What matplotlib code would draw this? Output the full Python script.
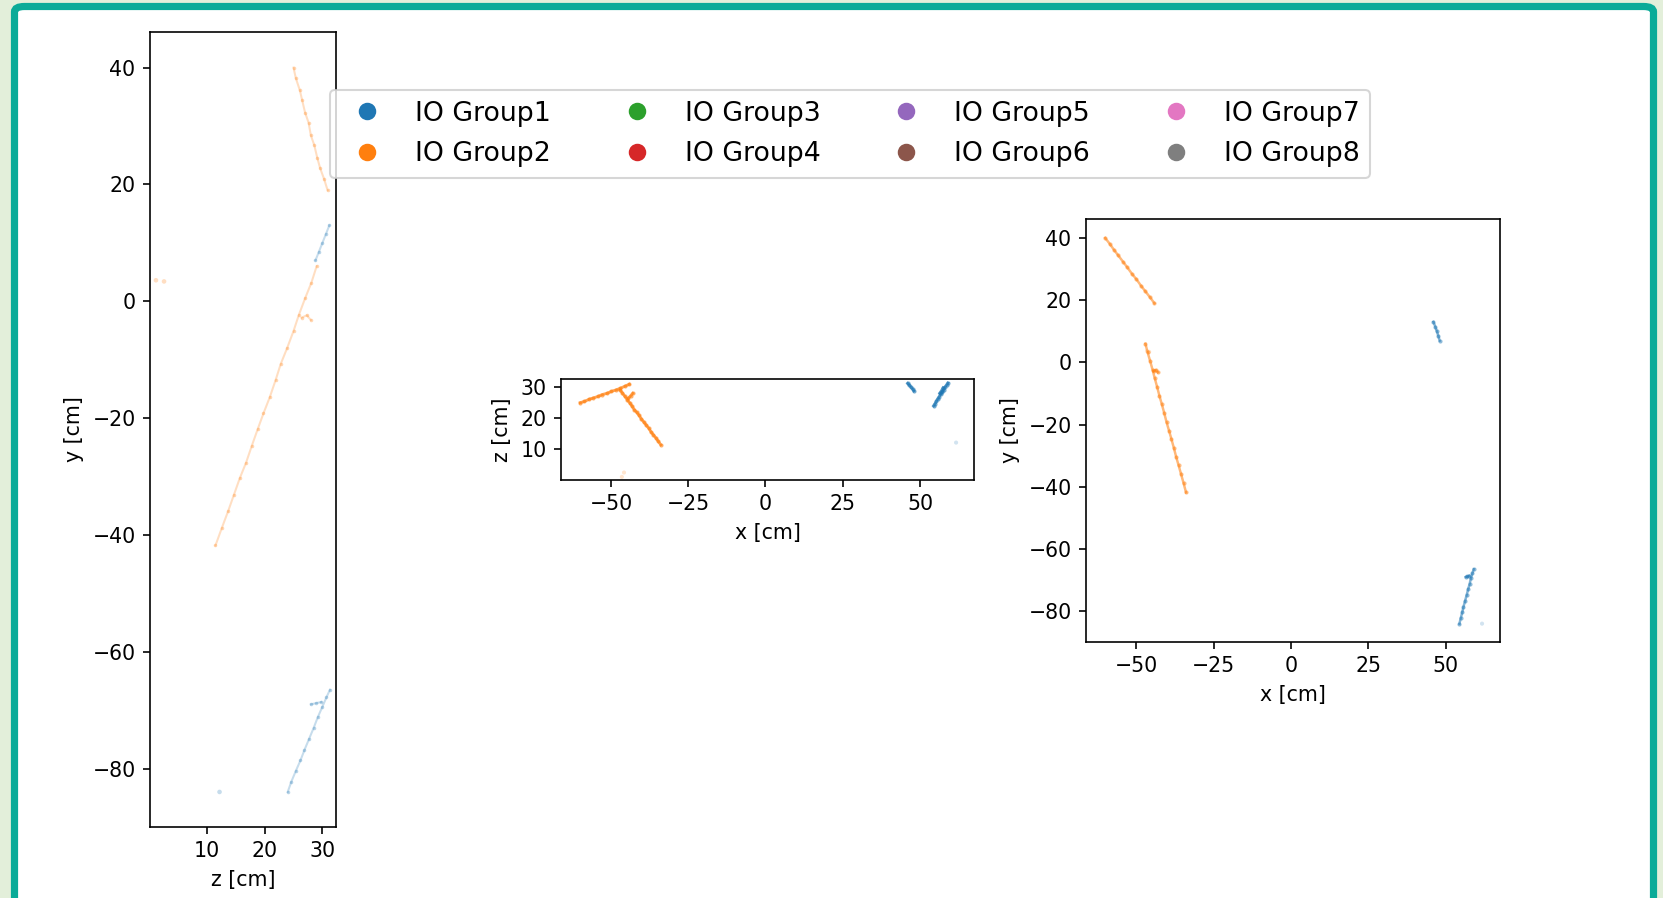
import matplotlib.pyplot as plt
from matplotlib.lines import Line2D
from matplotlib.patches import FancyBboxPatch

# IO group names and colours (tab10 order)
group_labels = ["IO Group1", "IO Group2", "IO Group3", "IO Group4",
                "IO Group5", "IO Group6", "IO Group7", "IO Group8"]
group_colors = ["tab:blue", "tab:orange", "tab:green", "tab:red",
                "tab:purple", "tab:brown", "tab:pink", "tab:gray"]

# hits read off the three projections, one list per track segment
# IO Group2 (orange)
track_a_x = [-60.0, -58.6, -57.1, -55.8, -54.2, -52.9, -51.3, -49.9, -48.4, -47.0, -45.5, -44.1]
track_a_y = [40.0, 38.2, 36.1, 34.4, 32.3, 30.6, 28.4, 26.7, 24.6, 22.8, 20.9, 19.0]
track_a_z = [25.0, 25.4, 26.1, 26.5, 27.0, 27.6, 28.0, 28.6, 29.1, 29.6, 30.3, 30.9]

track_b_x = [-47.0, -46.3, -45.5, -44.7, -44.0, -43.2, -42.5, -41.7, -40.9, -40.2,
             -39.4, -38.6, -37.8, -37.1, -36.3, -35.5, -34.7, -33.9]
track_b_y = [6.0, 3.2, 0.5, -2.4, -5.1, -8.0, -10.7, -13.5, -16.4, -19.2,
             -21.9, -24.7, -27.6, -30.3, -33.1, -35.9, -38.8, -41.8]
track_b_z = [29.0, 28.1, 27.0, 25.9, 25.0, 23.9, 22.8, 21.9, 20.9, 19.8,
             18.8, 17.8, 16.8, 15.7, 14.7, 13.7, 12.6, 11.5]

kink_b_x = [-44.4, -43.6, -43.0]
kink_b_y = [-2.8, -2.4, -3.2]
kink_b_z = [26.4, 27.3, 28.0]

# IO Group1 (blue)
track_c_x = [46.0, 46.6, 47.1, 47.6, 48.0]
track_c_y = [13.0, 11.5, 10.0, 8.5, 7.0]
track_c_z = [31.2, 30.6, 30.0, 29.4, 28.8]

track_d_x = [54.4, 54.8, 55.3, 55.7, 56.2, 56.7, 57.2, 57.7, 58.1, 58.6, 59.0]
track_d_y = [-84.0, -82.3, -80.4, -78.6, -76.8, -74.9, -73.0, -71.2, -69.4, -67.8, -66.5]
track_d_z = [24.0, 24.6, 25.4, 26.2, 26.9, 27.7, 28.5, 29.2, 30.0, 30.7, 31.3]

kink_d_x = [56.4, 57.0, 57.5]
kink_d_y = [-69.0, -68.8, -68.6]
kink_d_z = [28.0, 28.9, 29.8]

# isolated single hits
stray_x = [-46.5, -45.8, 61.7]
stray_y = [3.6, 3.4, -84.0]
stray_z = [1.2, 2.6, 12.2]
stray_g = [1, 1, 0]

segments = [
    (track_a_x, track_a_y, track_a_z, 1),
    (track_b_x, track_b_y, track_b_z, 1),
    (kink_b_x, kink_b_y, kink_b_z, 1),
    (track_c_x, track_c_y, track_c_z, 0),
    (track_d_x, track_d_y, track_d_z, 0),
    (kink_d_x, kink_d_y, kink_d_z, 0),
]


def main():
    fig = plt.figure(figsize=(1663 / 148, 898 / 148), dpi=148)
    fig.patch.set_facecolor("#e3efda")

    # teal rounded frame round the white card
    frame = FancyBboxPatch((14.5 / 1663, -0.02), 1639 / 1663, 1 - 6.5 / 898 + 0.02,
                           boxstyle="round,pad=0,rounding_size=0.006",
                           transform=fig.transFigure, facecolor="white",
                           edgecolor="#0aab98", linewidth=3.5, zorder=-10)
    fig.patches.append(frame)

    ax_zy = fig.add_axes([150 / 1663, 71 / 898, 186 / 1663, 795 / 898])
    ax_xz = fig.add_axes([561 / 1663, 418 / 898, 413 / 1663, 101 / 898])
    ax_xy = fig.add_axes([1086 / 1663, 256 / 898, 414 / 1663, 423 / 898])

    for sx, sy, sz, g in segments:
        c = group_colors[g]
        ax_zy.plot(sz, sy, "-", color=c, lw=1.0, alpha=0.25)
        ax_zy.scatter(sz, sy, s=3, color=c, alpha=0.3, linewidths=0)
        ax_xz.plot(sx, sz, "-", color=c, lw=1.4, alpha=0.7)
        ax_xz.scatter(sx, sz, s=4, color=c, alpha=0.6, linewidths=0)
        ax_xy.plot(sx, sy, "-", color=c, lw=1.2, alpha=0.55)
        ax_xy.scatter(sx, sy, s=4, color=c, alpha=0.5, linewidths=0)

    # faint single hits
    stray_c = [group_colors[g] for g in stray_g]
    ax_zy.scatter(stray_z, stray_y, s=5, c=stray_c, alpha=0.25, linewidths=0)
    ax_xz.scatter(stray_x, stray_z, s=4, c=stray_c, alpha=0.2, linewidths=0)
    ax_xy.scatter(stray_x, stray_y, s=4, c=stray_c, alpha=0.2, linewidths=0)

    ax_zy.set(xlim=(0.17, 32.35), ylim=(-90.0, 46.1), xlabel="z [cm]", ylabel="y [cm]")
    ax_xz.set(xlim=(-66.2, 67.5), ylim=(0.2, 32.6), xlabel="x [cm]", ylabel="z [cm]")
    ax_xy.set(xlim=(-66.2, 67.5), ylim=(-89.9, 46.1), xlabel="x [cm]", ylabel="y [cm]")
    ax_zy.set_xticks([10, 20, 30])
    ax_zy.set_yticks([-80, -60, -40, -20, 0, 20, 40])
    ax_xz.set_xticks([-50, -25, 0, 25, 50])
    ax_xz.set_yticks([10, 20, 30])
    ax_xy.set_xticks([-50, -25, 0, 25, 50])
    ax_xy.set_yticks([-80, -60, -40, -20, 0, 20, 40])

    handles = [Line2D([], [], ls="", marker="o", ms=7.5, color=c) for c in group_colors]
    fig.legend(handles, group_labels, ncol=4, loc="center", fontsize=13,
               bbox_to_anchor=(850 / 1663, 1 - 134 / 898), columnspacing=2.2,
               labelspacing=0.55)

    fig.savefig("out.png", dpi=148, facecolor=fig.get_facecolor())


if __name__ == "__main__":
    main()
